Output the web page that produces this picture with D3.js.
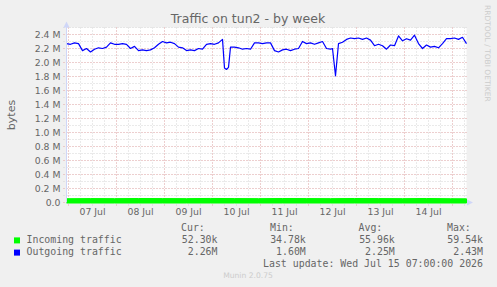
<!DOCTYPE html>
<meta charset="utf-8">
<style>
body { margin: 0; background: #f0f0f0; }
svg { display: block; }
text { font-family: "DejaVu Sans", sans-serif; fill: #666; }
.legend text { font-family: "DejaVu Sans Mono", monospace; font-size: 9.9px; white-space: pre; }
</style>
<body>
<script src="https://d3js.org/d3.v7.min.js"></script>
<script>

var width = 497,
    height = 287;

// outgoing traffic, [hours since start, MB/s]
var outgoing = [[0,2.27],[2,2.26],[4,2.28],[6,2.27],[8,2.17],[10,2.20],[12,2.15],[14,2.19],
  [16,2.21],[18,2.20],[20,2.22],[22,2.28],[24,2.26],[26,2.26],[28,2.27],[30,2.26],[32,2.20],
  [34,2.23],[36,2.17],[38,2.18],[40,2.17],[42,2.18],[44,2.21],[46,2.26],[48,2.30],[50,2.28],
  [52,2.29],[54,2.27],[56,2.22],[58,2.21],[60,2.17],[62,2.18],[64,2.17],[66,2.20],[68,2.19],
  [70,2.26],[72,2.27],[74,2.26],[76,2.28],[78,2.33],[79,1.92],[80,1.90],[81,1.93],[82,2.22],
  [84,2.22],[86,2.21],[88,2.19],[90,2.20],[92,2.19],[94,2.28],[96,2.28],[98,2.27],[100,2.28],
  [102,2.28],[104,2.17],[106,2.15],[108,2.18],[110,2.19],[112,2.17],[114,2.19],[116,2.20],
  [118,2.30],[120,2.27],[122,2.28],[124,2.26],[126,2.28],[128,2.30],[130,2.20],[132,2.19],
  [133,2.20],[134.5,1.81],[136,2.27],[138,2.29],[140,2.33],[142,2.35],[144,2.34],[146,2.35],
  [148,2.33],[150,2.35],[152,2.32],[154,2.24],[156,2.26],[158,2.24],[160,2.19],[162,2.25],
  [164,2.24],[166,2.38],[168,2.31],[170,2.34],[172,2.32],[174,2.39],[176,2.27],[178,2.20],
  [180,2.25],[182,2.22],[184,2.23],[186,2.21],[188,2.27],[190,2.34],[192,2.34],[194,2.35],
  [196,2.33],[198,2.36],[200,2.27]];

// incoming traffic, [hours since start, kB/s]
var incoming = [[0,54],[12,56],[24,55],[36,57],[48,56],[60,55],[72,58],[84,56],[96,55],
  [108,57],[120,56],[132,55],[144,57],[156,56],[168,55],[180,57],[192,54],[200,52.3]];

var legendNames = ["Incoming traffic", "Outgoing traffic"];
var legendColors = ["#00ff00", "#0000ff"];
var curVals = ["52.30k", "2.26M"];
var minVals = ["34.78k", "1.60M"];
var avgVals = ["55.96k", "2.25M"];
var maxVals = ["59.54k", "2.43M"];

var tStart = new Date(Date.UTC(2026, 6, 6, 23, 0, 0)),
    tEnd = new Date(Date.UTC(2026, 6, 15, 7, 0, 0));

function hourDate(h) { return new Date(tStart.getTime() + h * 3600000); }

var pLeft = 66.5, pRight = 466.5, pTop = 27.5, pBottom = 202.5;

var x = d3.scaleUtc().domain([tStart, tEnd]).range([pLeft, pRight]);
var y = d3.scaleLinear().domain([0, 2.5]).range([pBottom, pTop]);

var svg = d3.select("body").append("svg")
    .attr("width", width)
    .attr("height", height);

svg.append("rect").attr("width", width).attr("height", height).attr("fill", "#f0f0f0");
svg.append("rect")
    .attr("x", pLeft).attr("y", pTop)
    .attr("width", pRight - pLeft).attr("height", pBottom - pTop)
    .attr("fill", "#fff");

// grid (minor grey, major pink, both dotted)
var minorCol = "#d4d4d4", majorCol = "#f0b4b4", dots = "1,2";
var grid = svg.append("g");
grid.selectAll("line.hmin")
    .data(y.ticks(25))
  .enter().append("line")
    .attr("x1", pLeft - 3).attr("x2", pRight)
    .attr("y1", function(d){ return y(d); }).attr("y2", function(d){ return y(d); })
    .attr("stroke", minorCol).attr("stroke-dasharray", dots);
grid.selectAll("line.vmin")
    .data(x.ticks(d3.utcHour.every(6)))
  .enter().append("line")
    .attr("y1", pTop).attr("y2", pBottom + 3)
    .attr("x1", function(d){ return x(d); }).attr("x2", function(d){ return x(d); })
    .attr("stroke", minorCol).attr("stroke-dasharray", dots);
grid.selectAll("line.hmaj")
    .data(y.ticks(12))
  .enter().append("line")
    .attr("x1", pLeft - 3).attr("x2", pRight)
    .attr("y1", function(d){ return y(d); }).attr("y2", function(d){ return y(d); })
    .attr("stroke", majorCol).attr("stroke-dasharray", dots);
grid.selectAll("line.vmaj")
    .data(x.ticks(d3.utcDay.every(1)))
  .enter().append("line")
    .attr("y1", pTop).attr("y2", pBottom + 3)
    .attr("x1", function(d){ return x(d); }).attr("x2", function(d){ return x(d); })
    .attr("stroke", majorCol).attr("stroke-dasharray", dots);

// y labels
svg.selectAll("text.ylab")
    .data(y.ticks(12))
  .enter().append("text")
    .attr("x", 60.5)
    .attr("y", function(d){ return y(d) + 3.4; })
    .attr("text-anchor", "end")
    .style("font-size", "9.3px")
    .text(function(d){ return d === 0 ? "0.0" : d3.format(".1f")(d) + " M"; });

// x labels at noon
svg.selectAll("text.xlab")
    .data(x.ticks(d3.utcDay.every(1)).map(function(d){ return d3.utcHour.offset(d, 12); })
      .filter(function(d){ return d < tEnd; }))
  .enter().append("text")
    .attr("x", function(d){ return x(d); })
    .attr("y", 215.2)
    .attr("text-anchor", "middle")
    .style("font-size", "9.3px")
    .text(d3.utcFormat("%d %b"));

// data
svg.append("path")
    .datum(incoming)
    .attr("fill", "#00ff00")
    .attr("stroke", "#00ff00")
    .attr("stroke-width", 1)
    .attr("d", d3.area()
      .x(function(d){ return x(hourDate(d[0])); })
      .y0(pBottom + 0.5)
      .y1(function(d){ return y(d[1] / 1000); }));

svg.append("path")
    .datum(outgoing)
    .attr("fill", "none")
    .attr("stroke", "#0000ff")
    .attr("stroke-width", 1.2)
    .attr("stroke-linejoin", "round")
    .attr("d", d3.line()
      .x(function(d){ return x(hourDate(d[0])); })
      .y(function(d){ return y(d[1]); }));

// axes + arrows
svg.append("line").attr("x1", pLeft).attr("x2", pLeft).attr("y1", pBottom).attr("y2", pTop - 1)
    .attr("stroke", "#cfd6f8");
svg.append("path").attr("d", "M63.5,27.5L69.5,27.5L66.5,21.5Z").attr("fill", "#cfd6f8");
svg.append("path").attr("d", "M467,199.5L467,205.5L473,202.5Z").attr("fill", "#cfd6f8");

// titles
svg.append("text")
    .attr("x", 248).attr("y", 22.5)
    .attr("text-anchor", "middle")
    .style("font-size", "12.5px")
    .text("Traffic on tun2 - by week");

svg.append("text")
    .attr("transform", "translate(15,115) rotate(-90)")
    .attr("text-anchor", "middle")
    .style("font-size", "11px")
    .text("bytes");

svg.append("text")
    .attr("transform", "translate(485,5) rotate(90)")
    .style("font-size", "7.5px")
    .style("fill", "#ccc")
    .text("RRDTOOL / TOBI OETIKER");

svg.append("text")
    .attr("x", 248).attr("y", 278)
    .attr("text-anchor", "middle")
    .style("font-size", "7.6px")
    .style("fill", "#ccc")
    .text("Munin 2.0.75");

// legend
var legend = svg.append("g").attr("class", "legend");
var headers = [["Cur:", 181], ["Min:", 270], ["Avg:", 358.5], ["Max:", 447]];
legend.selectAll("text.head")
    .data(headers)
  .enter().append("text")
    .attr("x", function(d){ return d[1]; })
    .attr("y", 230.8)
    .text(function(d){ return d[0]; });

var rows = legend.selectAll("g.row")
    .data(legendNames)
  .enter().append("g")
    .attr("transform", function(d, i){ return "translate(0," + (243 + i * 12.2) + ")"; });

rows.append("rect")
    .attr("x", 14).attr("y", -5.6)
    .attr("width", 6).attr("height", 6)
    .attr("fill", function(d, i){ return legendColors[i]; });
rows.append("text").attr("x", 26.5).text(function(d){ return d; });
var cols = [[curVals, 217.5], [minVals, 305.8], [avgVals, 394.8], [maxVals, 483]];
cols.forEach(function(c){
  rows.append("text")
      .attr("x", c[1])
      .attr("text-anchor", "end")
      .text(function(d, i){ return c[0][i]; });
});

legend.append("text")
    .attr("x", 483).attr("y", 267.4)
    .attr("text-anchor", "end")
    .text("Last update: Wed Jul 15 07:00:00 2026");

</script>
